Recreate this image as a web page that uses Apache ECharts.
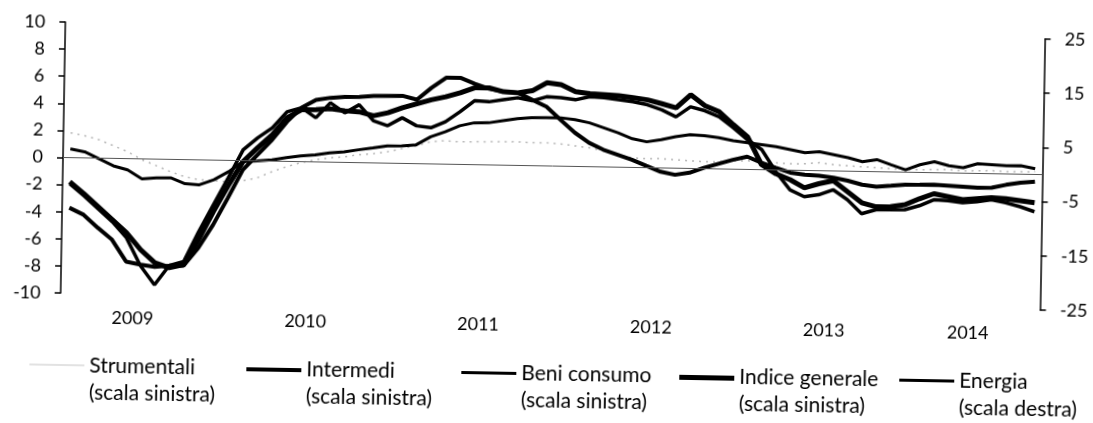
<!DOCTYPE html>
<html>
<head>
<meta charset="utf-8">
<script src="https://cdn.jsdelivr.net/npm/echarts@6/dist/echarts.min.js"></script>
<style>
html,body{margin:0;padding:0;background:#fff;overflow:hidden;width:1093px;height:423px}
#c{width:1093px;height:423px;transform:rotate(1deg);transform-origin:63px 158px;background:#fff}
</style>
</head>
<body>
<div id="c"></div>
<script>
// Months: Feb 2009 - Sep 2014
const months = [
 '2009-02','2009-03','2009-04','2009-05','2009-06','2009-07','2009-08','2009-09','2009-10','2009-11','2009-12',
 '2010-01','2010-02','2010-03','2010-04','2010-05','2010-06','2010-07','2010-08','2010-09','2010-10','2010-11','2010-12',
 '2011-01','2011-02','2011-03','2011-04','2011-05','2011-06','2011-07','2011-08','2011-09','2011-10','2011-11','2011-12',
 '2012-01','2012-02','2012-03','2012-04','2012-05','2012-06','2012-07','2012-08','2012-09','2012-10','2012-11','2012-12',
 '2013-01','2013-02','2013-03','2013-04','2013-05','2013-06','2013-07','2013-08','2013-09','2013-10','2013-11','2013-12',
 '2014-01','2014-02','2014-03','2014-04','2014-05','2014-06','2014-07','2014-08','2014-09'
];
const yearLabels = ['2009','2010','2011','2012','2013','2014'];
const yearLabelIndex = [5,17,29,41,53,63];
const rightTicks = [-25,-15,-5,5,15,25];

const strumentali = [1.83,1.63,1.35,0.93,0.5,-0.07,-0.49,-0.92,-1.27,-1.47,
 -1.52,-1.58,-1.49,-1.25,-0.79,-0.4,-0.08,0.16,0.32,0.41,
 0.58,0.67,0.84,1.08,1.32,1.63,1.73,1.67,1.69,1.71,
 1.73,1.75,1.69,1.71,1.65,1.52,1.4,1.19,0.92,0.71,
 0.66,0.68,0.62,0.57,0.51,0.53,0.62,0.64,0.59,0.53,
 0.48,0.49,0.59,0.46,0.4,0.35,0.29,0.24,0.18,0.2,
 0.22,0.24,0.18,0.2,0.22,0.17,0.18,0.2];
const intermedi = [-3.7,-4.2,-5.14,-6.0,-7.6,-7.8,-7.95,-7.85,-7.83,-6.49,
 -4.77,-2.76,-0.67,0.45,1.58,2.92,3.98,4.58,4.75,4.84,
 4.86,4.95,4.97,4.99,4.72,5.62,6.38,6.39,5.97,5.62,
 5.42,5.36,4.86,4.37,3.42,2.49,1.76,1.27,0.92,0.57,
 0.14,-0.28,-0.49,-0.32,0.07,0.38,0.69,0.94,0.51,0.16,
 -0.18,-0.32,-0.37,-0.5,-0.7,-0.98,-1.11,-1.02,-0.92,-0.91,
 -0.89,-0.94,-1.0,-1.06,-1.03,-0.8,-0.63,-0.54];
const beniConsumo = [0.65,0.45,-0.05,-0.55,-0.83,-1.47,-1.38,-1.36,-1.78,-1.84,
 -1.45,-0.84,-0.08,0.0,0.1,0.27,0.43,0.52,0.69,0.78,
 0.95,1.11,1.28,1.3,1.39,2.0,2.39,2.85,3.09,3.11,
 3.28,3.45,3.54,3.56,3.57,3.45,3.24,2.89,2.54,2.12,
 1.91,2.08,2.32,2.49,2.43,2.3,2.1,1.97,1.84,1.71,
 1.51,1.31,1.4,1.2,1.0,0.72,0.89,0.53,0.18,0.57,
 0.81,0.53,0.41,0.72,0.66,0.6,0.63,0.42];
const indiceGenerale = [-1.78,-2.65,-3.59,-4.53,-5.47,-6.71,-7.65,-8.0,-7.76,-5.9,
 -3.81,-1.87,-0.08,0.97,1.95,3.22,3.83,3.85,3.94,3.81,
 3.75,3.48,3.72,4.11,4.42,4.73,4.97,5.29,5.68,5.69,
 5.42,5.36,5.53,6.14,6.01,5.51,5.38,5.33,5.27,5.14,
 5.01,4.74,4.46,5.44,4.65,4.22,3.28,2.41,0.37,-0.28,
 -0.7,-1.28,-0.96,-0.72,-1.52,-2.31,-2.59,-2.57,-2.4,-1.94,
 -1.55,-1.75,-1.96,-1.86,-1.77,-1.83,-1.96,-2.09];
const energia = [-4.83,-7.0,-9.35,-11.7,-14.6,-19.7,-23.2,-19.6,-18.8,-13.3,
 -8.24,-3.21,2.0,4.26,6.15,9.15,9.94,8.14,10.95,9.15,
 10.68,7.77,6.9,8.42,6.99,6.67,7.82,9.71,11.79,11.65,
 12.07,12.48,11.98,12.76,12.62,12.3,12.9,12.76,12.44,12.12,
 11.61,10.73,9.49,11.38,10.69,9.63,7.65,5.48,3.68,-0.33,
 -3.61,-4.85,-4.44,-3.47,-5.27,-7.8,-7.02,-6.97,-6.92,-6.14,
 -4.99,-5.12,-5.45,-5.22,-4.8,-5.31,-6.0,-6.87];

const NAMES = {
  st: 'Strumentali\n(scala sinistra)',
  in: 'Intermedi\n(scala sinistra)',
  bc: 'Beni consumo\n(scala sinistra)',
  ig: 'Indice generale\n(scala sinistra)',
  en: 'Energia\n(scala destra)'
};
const FONT = 'Lato, "Open Sans", "Liberation Sans", sans-serif';

// icon: bar drawn at the top of a 30px-high symbol box, so it lines up with the first text line
function legendItem(name, left, color, barH) {
  return {
    show: true, data: [name], left: left, top: 352, padding: 0,
    itemWidth: 55, itemHeight: 30, itemGap: 0, selectedMode: false,
    symbolKeepAspect: false,
    icon: 'path://M0,0L60,0L60,' + barH + 'L0,' + barH + 'Z M0,30L60,30',
    itemStyle: { color: color, borderWidth: 0 },
    textStyle: { fontFamily: FONT, fontSize: 21, lineHeight: 27, color: '#000' }
  };
}

const chart = echarts.init(document.getElementById('c'), null, { renderer: 'canvas' });
const axisCommon = {
  axisLine: { show: true, lineStyle: { color: '#000', width: 1.5 } },
  axisTick: { show: true, inside: false, length: 6, lineStyle: { color: '#000', width: 1.5 } },
  splitLine: { show: false }
};
chart.setOption({
  animation: false,
  backgroundColor: '#fff',
  grid: { left: 63, right: 46, top: 22, bottom: 130 },
  xAxis: {
    type: 'category', data: months, boundaryGap: true,
    axisLine: { show: false }, axisTick: { show: false }, splitLine: { show: false },
    axisLabel: {
      interval: function (i) { return yearLabelIndex.indexOf(i) >= 0; },
      formatter: function (v, i) { const k = yearLabelIndex.indexOf(i); return k >= 0 ? yearLabels[k] : ''; },
      fontFamily: FONT, fontSize: 18, color: '#000', margin: 15, padding: [0, 14, 0, 0]
    }
  },
  yAxis: [
    Object.assign({
      type: 'value', min: -10, max: 10, interval: 2, position: 'left',
      axisLabel: { fontFamily: FONT, fontSize: 18, color: '#000', margin: 20 }
    }, axisCommon),
    Object.assign({
      type: 'value', min: -25, max: 25, position: 'right',
      axisLabel: { customValues: rightTicks, fontFamily: FONT, fontSize: 18, color: '#000', margin: 20 }
    }, axisCommon, {
      axisTick: { show: true, inside: false, length: 6, customValues: rightTicks, lineStyle: { color: '#000', width: 1.5 } }
    })
  ],
  legend: [
    legendItem(NAMES.st, 33, '#e2e2e2', 2),
    legendItem(NAMES.in, 250, '#000', 4),
    legendItem(NAMES.bc, 465, '#000', 3),
    legendItem(NAMES.ig, 683, '#000', 5),
    legendItem(NAMES.en, 903, '#000', 3)
  ],
  series: [
    { type: 'line', name: NAMES.st, data: strumentali, symbol: 'none', yAxisIndex: 0,
      lineStyle: { color: '#b5b5b5', width: 1.5, type: [2, 5] }, itemStyle: { color: '#b5b5b5' },
      markLine: { silent: true, symbol: 'none', label: { show: false },
        lineStyle: { color: '#555', width: 1, type: 'solid' }, data: [{ yAxis: 0 }] } },
    { type: 'line', name: NAMES.bc, data: beniConsumo, symbol: 'none', yAxisIndex: 0,
      lineStyle: { color: '#000', width: 3 }, itemStyle: { color: '#000' } },
    { type: 'line', name: NAMES.in, data: intermedi, symbol: 'none', yAxisIndex: 0,
      lineStyle: { color: '#000', width: 4 }, itemStyle: { color: '#000' } },
    { type: 'line', name: NAMES.en, data: energia, symbol: 'none', yAxisIndex: 1,
      lineStyle: { color: '#000', width: 3.5 }, itemStyle: { color: '#000' } },
    { type: 'line', name: NAMES.ig, data: indiceGenerale, symbol: 'none', yAxisIndex: 0,
      lineStyle: { color: '#000', width: 5 }, itemStyle: { color: '#000' } }
  ]
});
</script>
</body>
</html>
